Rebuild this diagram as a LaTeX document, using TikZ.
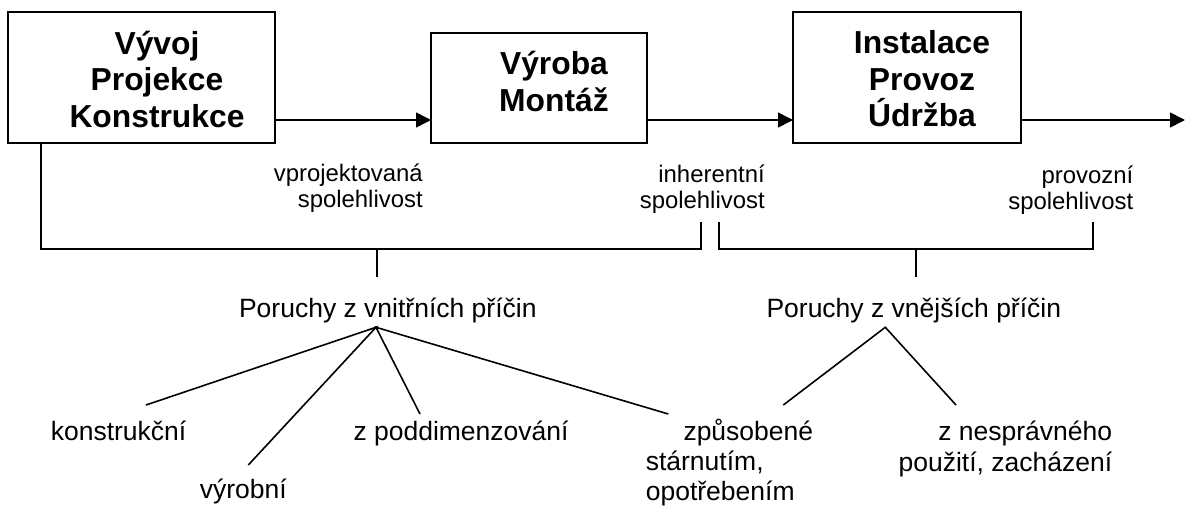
\documentclass[tikz,border=0pt]{standalone}
\usepackage{fontspec}
\setmainfont{Liberation Sans}
\usetikzlibrary{arrows.meta}
\begin{document}
\begin{tikzpicture}[x=1pt,y=-1pt,
  line width=1.6pt,
  box/.style={draw, line width=1.6pt, inner sep=0pt, outer sep=0pt},
  btext/.style={font=\fontsize{31.8}{36.5}\selectfont\bfseries, align=center, anchor=base, inner sep=0pt},
  lab/.style={font=\fontsize{23.9}{26}\selectfont, align=right, anchor=base east, inner sep=0pt},
  txt/.style={font=\fontsize{26.5}{31}\selectfont, inner sep=0pt},
  arr/.style={-{Triangle[length=15pt,width=15pt]}},
]
\useasboundingbox (0,0) rectangle (1187,506);
% boxes
\node[box, minimum width=267pt, minimum height=131pt] (b1) at (141.5,77.5) {};
\node[box, minimum width=216pt, minimum height=110pt] (b2) at (539,88) {};
\node[box, minimum width=228pt, minimum height=131pt] (b3) at (907,77.5) {};
\node[btext] (t1) at (157,127.3) {Vývoj\\Projekce\\Konstrukce};
\node[btext] (t2) at (554,111) {Výroba\\Montáž};
\node[btext] (t3) at (922,126.7) {Instalace\\Provoz\\Údržba};
% arrows
\coordinate (a1) at ([yshift=-42.5pt]b1.east);
\coordinate (aend) at (1185,120);
\draw[arr] (a1) -- (a1 -| b2.west);
\draw[arr] (a1 -| b2.east) -- (a1 -| b3.west);
\draw[arr] (a1 -| b3.east) -- (aend);
% reliability labels
\node[lab] (l1) at (423.5,207) {vprojektovaná\\spolehlivost};
\node[lab] (l2) at (765.5,208) {inherentní\\spolehlivost};
\node[lab] (l3) at (1134,209) {provozní\\spolehlivost};
% brackets
\coordinate (lb1) at (41,249);
\coordinate (lb2) at (701,249);
\coordinate (rb1) at (719,249);
\coordinate (rb2) at (1093,249);
\draw (lb1 |- b1.south) -- (lb1) -- (lb2) -- ++(0,-27);
\draw (rb1) ++(0,-27) -- (rb1) -- (rb2) -- ++(0,-27);
\coordinate (tk1) at (377,249);
\coordinate (tk1e) at (377,277);
\coordinate (tk2) at (916,249);
\coordinate (tk2e) at (916,277);
\draw (tk1) -- (tk1e);
\draw (tk2) -- (tk2e);
% categories
\node[txt, anchor=base] (p1) at (387.8,317) {Poruchy z vnitřních příčin};
\node[txt, anchor=base] (p2) at (913.8,317) {Poruchy z vnějších příčin};
% fan left
\coordinate (f1) at (376,327.3);
\coordinate (e1) at (146,405);
\coordinate (e2) at (248.3,465);
\coordinate (e3) at (420,414);
\coordinate (e4) at (668.3,414);
\draw (e1) -- (f1) -- (e2);
\draw (e3) -- (f1) -- (e4);
% fan right
\coordinate (f2) at (885.3,327.3);
\coordinate (e5) at (783.3,405);
\coordinate (e6) at (956,405);
\draw (e5) -- (f2) -- (e6);
% leaves
\node[txt, anchor=base west] (k1) at (50,440.7) {konstrukční};
\node[txt, anchor=base west] (k2) at (199,498) {výrobní};
\node[txt, anchor=base west] (k3) at (352.7,440.7) {z poddimenzování};
\node[txt, anchor=base west, align=left, font=\fontsize{26.5}{29.7}\selectfont] (k4) at (645,500) {\hspace*{37.7pt}způsobené\\stárnutím,\\opotřebením};
\node[txt, anchor=base east, align=right] (k5) at (1113,471.7) {z nesprávného\\použití, zacházení};
\end{tikzpicture}
\end{document}
